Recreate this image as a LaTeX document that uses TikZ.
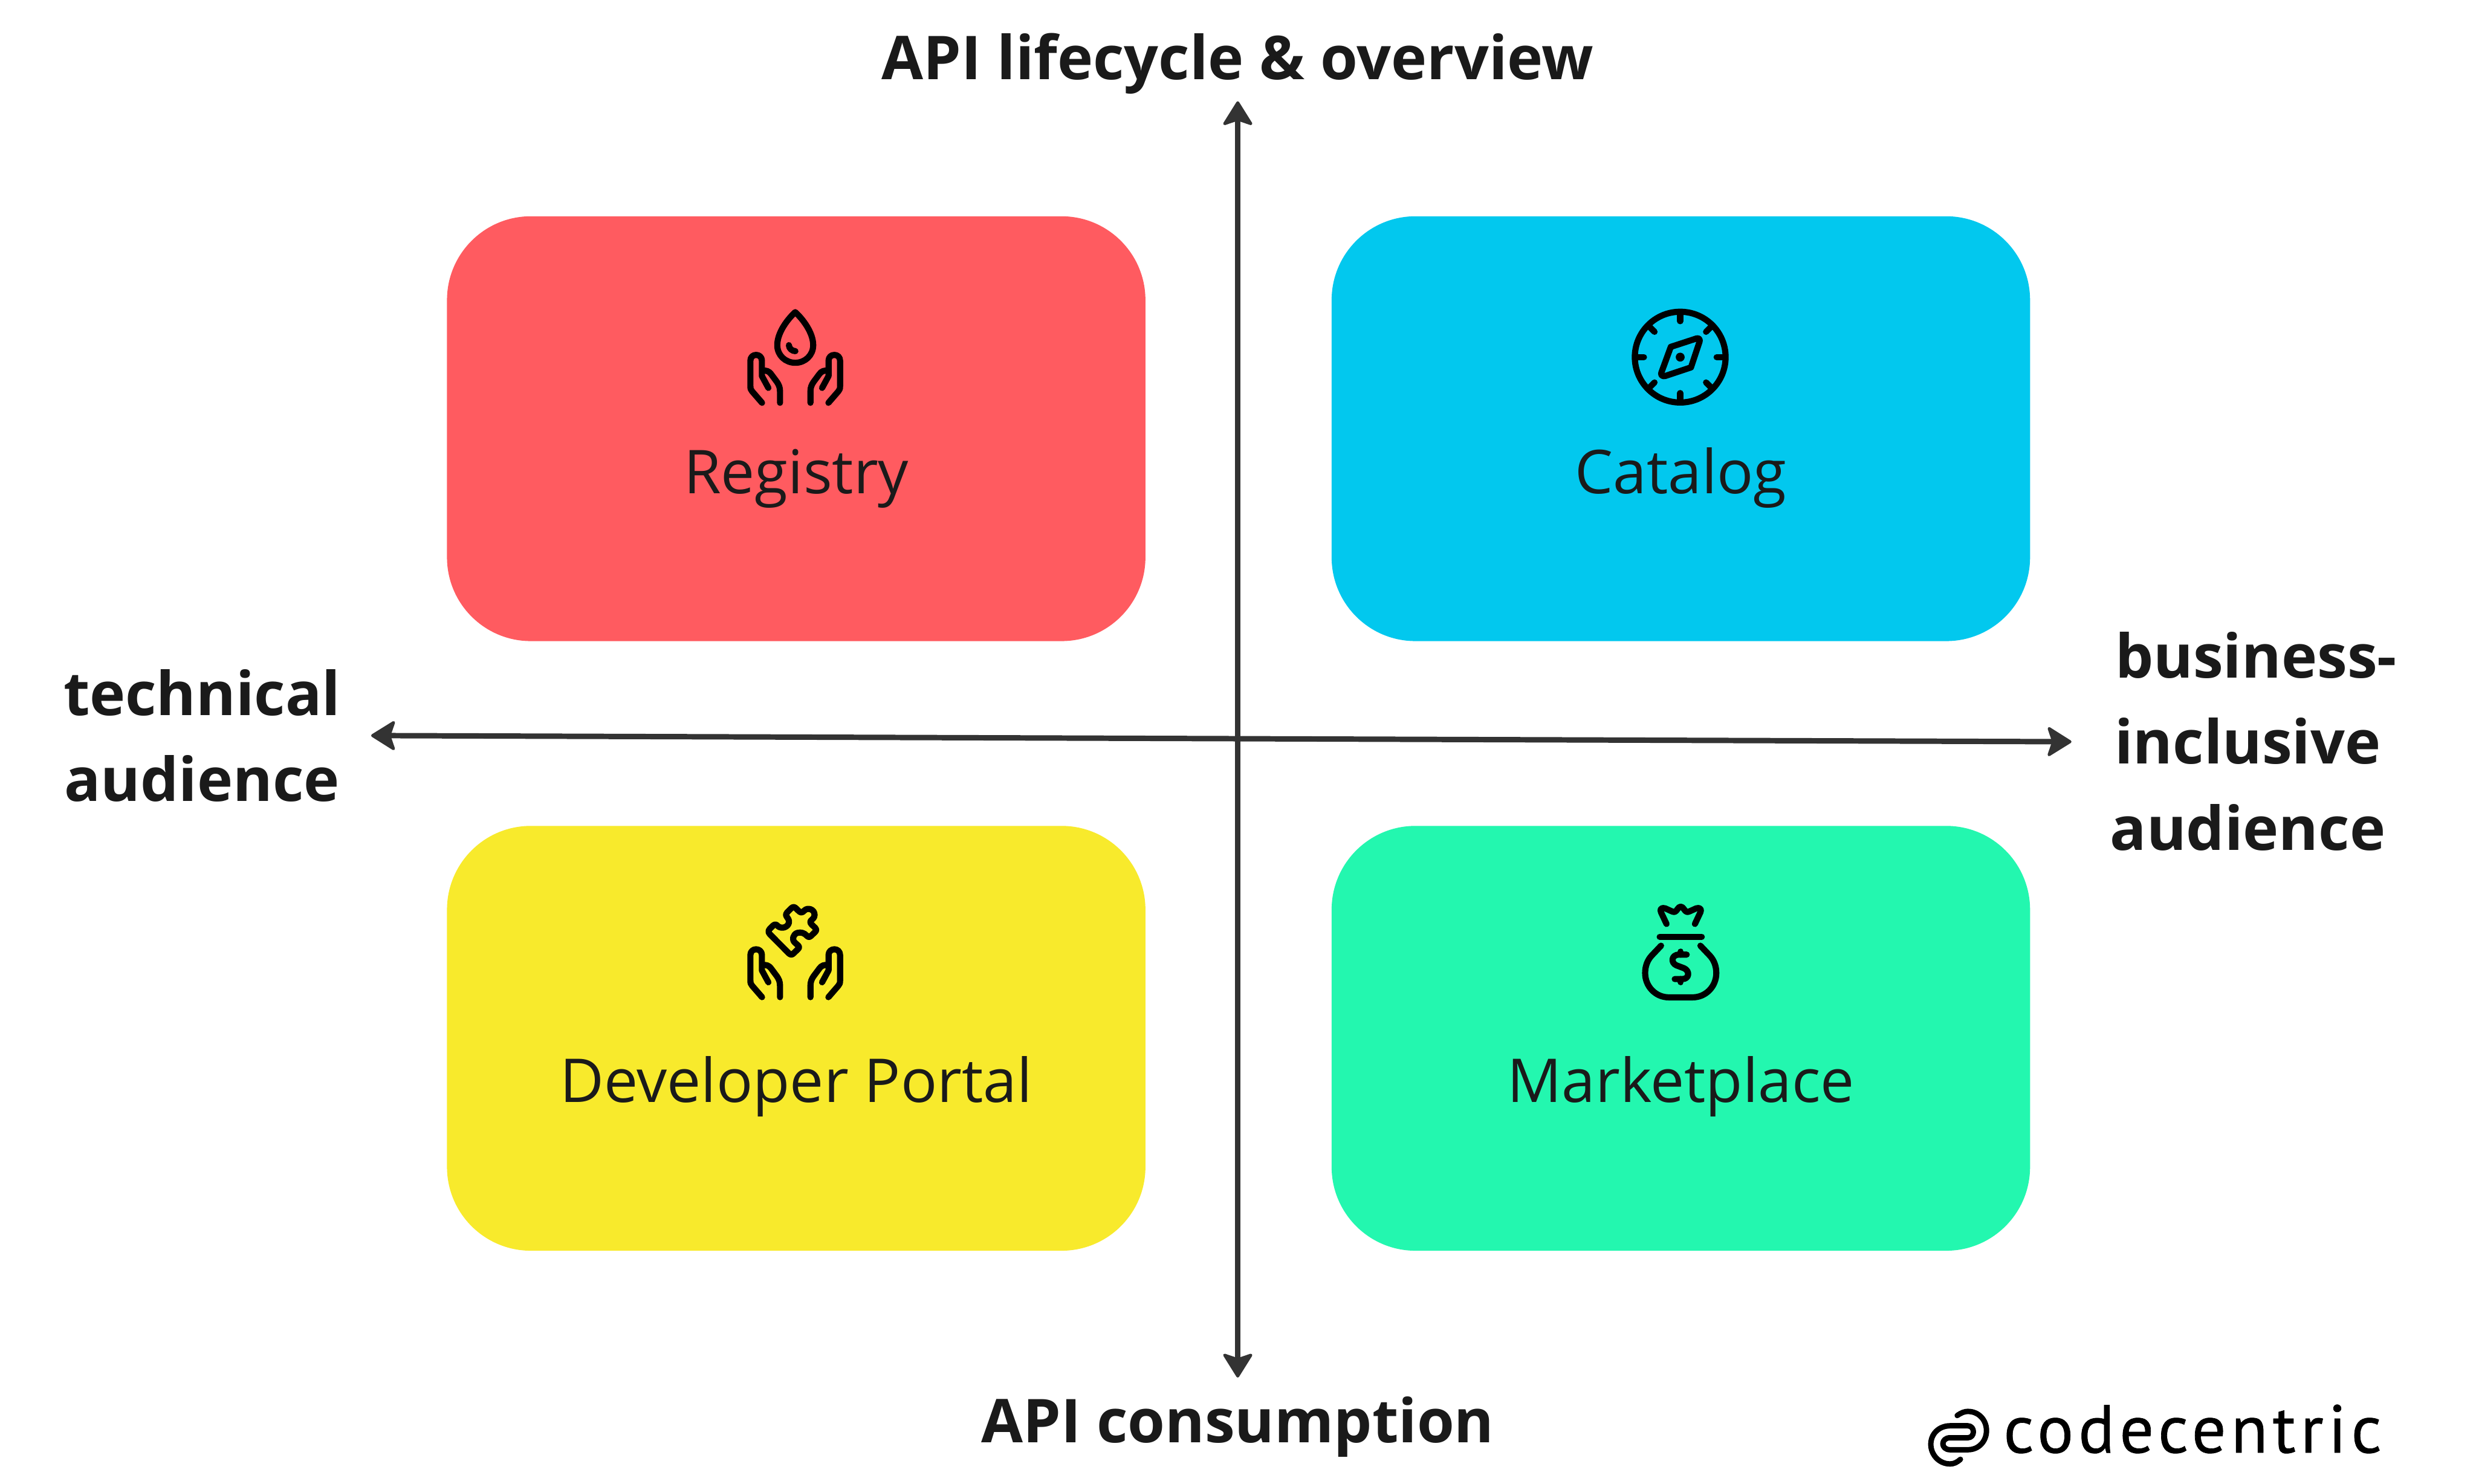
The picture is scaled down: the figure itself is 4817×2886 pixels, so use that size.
\documentclass[tikz,border=0pt]{standalone}
\usepackage{fontspec}
\setmainfont{Open Sans}
\newfontfamily\logofont[LetterSpace=7,FakeBold=0.6]{PT Sans}
\usetikzlibrary{arrows.meta}
\definecolor{cred}{RGB}{255,91,96}
\definecolor{cblue}{RGB}{2,200,238}
\definecolor{cyellow}{RGB}{248,234,44}
\definecolor{cgreen}{RGB}{35,247,175}
\definecolor{axisc}{RGB}{51,51,51}
\definecolor{textc}{RGB}{26,26,26}
\tikzset{
  card/.style={rounded corners=1.63cm,minimum width=13.58cm,minimum height=8.26cm,inner sep=0,outer sep=0},
  cardlabel/.style={text=textc,font=\fontsize{33.45pt}{38pt}\selectfont,anchor=base,inner sep=0},
  axislabel/.style={text=textc,font=\fontsize{33.45pt}{47.6pt}\selectfont\bfseries,inner sep=0,align=center},
  axisline/.style={draw=axisc,line width=3pt,{Stealth[length=14.5pt,width=18pt,inset=3pt,round,line width=1.6pt]}-{Stealth[length=14.5pt,width=18pt,inset=3pt,round,line width=1.6pt]}},
  icon/.style={line width=3.4pt,line cap=round,line join=round,black},
}
\newcommand{\handpair}{%
  \draw (248,672) -- (190,605) .. controls (182,595) and (180,590) .. (180,575) -- (180,425) .. controls (180,405) and (195,392) .. (213,392) .. controls (232,392) and (247,405) .. (247,425) -- (247,515) -- (285,585);
  \draw (353,672) -- (353,605) .. controls (353,580) and (345,565) .. (335,550) -- (300,503) .. controls (290,488) and (270,480) .. (250,485);
  \draw (636,672) -- (694,605) .. controls (702,595) and (704,590) .. (704,575) -- (704,425) .. controls (704,405) and (689,392) .. (671,392) .. controls (652,392) and (637,405) .. (637,425) -- (637,515) -- (599,585);
  \draw (531,672) -- (531,605) .. controls (531,580) and (539,565) .. (549,550) -- (584,503) .. controls (594,488) and (614,480) .. (634,485);
}
\begin{document}
\begin{tikzpicture}[x=0.01cm,y=-0.01cm]
\useasboundingbox (0,0) rectangle (4817,2886);
\fill[white] (0,0) rectangle (4817,2886);
\node[card,fill=cred] (registry) at (1549,834) {};
\node[card,fill=cblue] (catalog) at (3270,834) {};
\node[card,fill=cyellow] (portal) at (1549,2020) {};
\node[card,fill=cgreen] (market) at (3270,2020) {};

\coordinate (top) at (2408,197);
\coordinate (bottom) at (2408,2680);
\coordinate (left) at (722,1431);
\coordinate (right) at (4030,1443);
\draw[axisline] (left) -- (right);
\draw[axisline] (top) -- (bottom);

\node[cardlabel] (t1) at (1549,960) {Registry};
\node[cardlabel] (t2) at (3270,960) {Catalog};
\node[cardlabel] (t3) at (1549,2145) {Developer Portal};
\node[cardlabel] (t4) at (3270,2145) {Marketplace};

\node[axislabel] (l1) at (2408,124) {API lifecycle \& overview};
\node[axislabel] (l2) at (2408,2776) {API consumption};
\node[axislabel] (l3) at (393,1431) {technical\\audience};
\node[axislabel] (l4) at (4373,1442) {business-\hspace*{-0.32cm}\\inclusive\\audience};

\begin{scope}[shift={(1400,560)},x=0.00333cm,y=-0.00333cm,icon]
  \handpair
  \draw (442,142) .. controls (400,180) and (337,260) .. (337,335) .. controls (337,395) and (385,438) .. (442,438) .. controls (499,438) and (547,395) .. (547,335) .. controls (547,260) and (484,180) .. (442,142) -- cycle;
  \draw (405,335) .. controls (405,355) and (425,370) .. (443,370);
\end{scope}

\begin{scope}[shift={(3130,560)},x=0.00333cm,y=-0.00333cm,icon]
  \draw (417,405) circle [radius=2.65*0.333cm];
  \draw (417,150) -- (417,195); \draw (417,660) -- (417,615);
  \draw (160,405) -- (205,405); \draw (675,405) -- (630,405);
  \draw (235,225) -- (267,257); \draw (600,225) -- (568,257);
  \draw (235,585) -- (267,553); \draw (600,585) -- (568,553);
  \draw (362,345) -- (512,296) .. controls (525,292) and (535,300) .. (530,315) -- (480,465) -- (330,515) .. controls (315,520) and (300,510) .. (307,495) -- cycle;
  \fill (417,405) circle [radius=0.26*0.333cm];
\end{scope}

\begin{scope}[shift={(1400,1730)},x=0.00333cm,y=-0.00333cm,icon]
  \begin{scope}[yshift=0.41*0.333cm]\handpair\end{scope}
  \draw (293,232) -- (312,213) .. controls (322,203) and (332,205) .. (340,215) .. controls (362,235) and (400,222) .. (405,195) .. controls (408,178) and (398,170) .. (392,160) .. controls (385,150) and (388,142) .. (395,135) -- (418,112) .. controls (428,102) and (438,102) .. (447,112) -- (460,125) .. controls (475,140) and (482,138) .. (495,125) .. controls (512,105) and (555,115) .. (555,150) .. controls (555,170) and (540,175) .. (532,185) .. controls (528,192) and (530,198) .. (538,206) -- (558,225) .. controls (566,234) and (566,242) .. (558,250) -- (535,272) .. controls (525,282) and (518,280) .. (510,272) .. controls (495,255) and (475,250) .. (455,255) .. controls (430,262) and (420,295) .. (440,312) -- (458,328) .. controls (466,336) and (466,342) .. (458,350) -- (432,375) .. controls (424,384) and (414,384) .. (405,375) -- (293,262) .. controls (284,252) and (284,242) .. (293,232) -- cycle;
\end{scope}

\begin{scope}[shift={(3130,1730)},x=0.00333cm,y=-0.00333cm,icon]
  \draw (337,203) -- (305,135) .. controls (295,115) and (310,105) .. (330,112) -- (370,130) .. controls (385,137) and (392,130) .. (402,115) .. controls (412,98) and (428,98) .. (438,115) .. controls (448,130) and (455,137) .. (470,130) -- (510,112) .. controls (530,105) and (545,115) .. (535,135) -- (503,203);
  \draw (297,278) -- (543,278);
  \draw (305,330) -- (250,388) .. controls (225,415) and (212,450) .. (212,490) .. controls (212,570) and (275,632) .. (350,632) -- (490,632) .. controls (565,632) and (628,570) .. (628,490) .. controls (628,450) and (615,415) .. (590,388) -- (535,330);
  \draw (455,382) -- (410,382) .. controls (365,382) and (360,430) .. (395,445) -- (440,462) .. controls (475,478) and (470,525) .. (430,525) -- (385,525);
  \draw (420,365) -- (420,382); \draw (420,525) -- (420,543);
\end{scope}

\begin{scope}[shift={(3700,2680)},x=0.00625cm,y=-0.00333cm,line cap=round,line join=round]
  \draw[black,line width=3pt] (172,222) .. controls (185,205) and (195,198) .. (205,198) .. controls (240,198) and (263,250) .. (263,310) .. controls (263,370) and (240,422) .. (205,422) -- (150,422) .. controls (120,422) and (120,352) .. (150,352) -- (205,352) .. controls (228,352) and (228,282) .. (205,282) -- (150,282) .. controls (115,282) and (90,330) .. (90,390) .. controls (90,450) and (115,505) .. (150,505) .. controls (162,505) and (172,495) .. (182,478);
\end{scope}
\node[inner sep=0,anchor=base west,text=black,font=\logofont\fontsize{37.5pt}{40pt}\selectfont] (logo) at (3897,2826) {codecentric};
\end{tikzpicture}
\end{document}
